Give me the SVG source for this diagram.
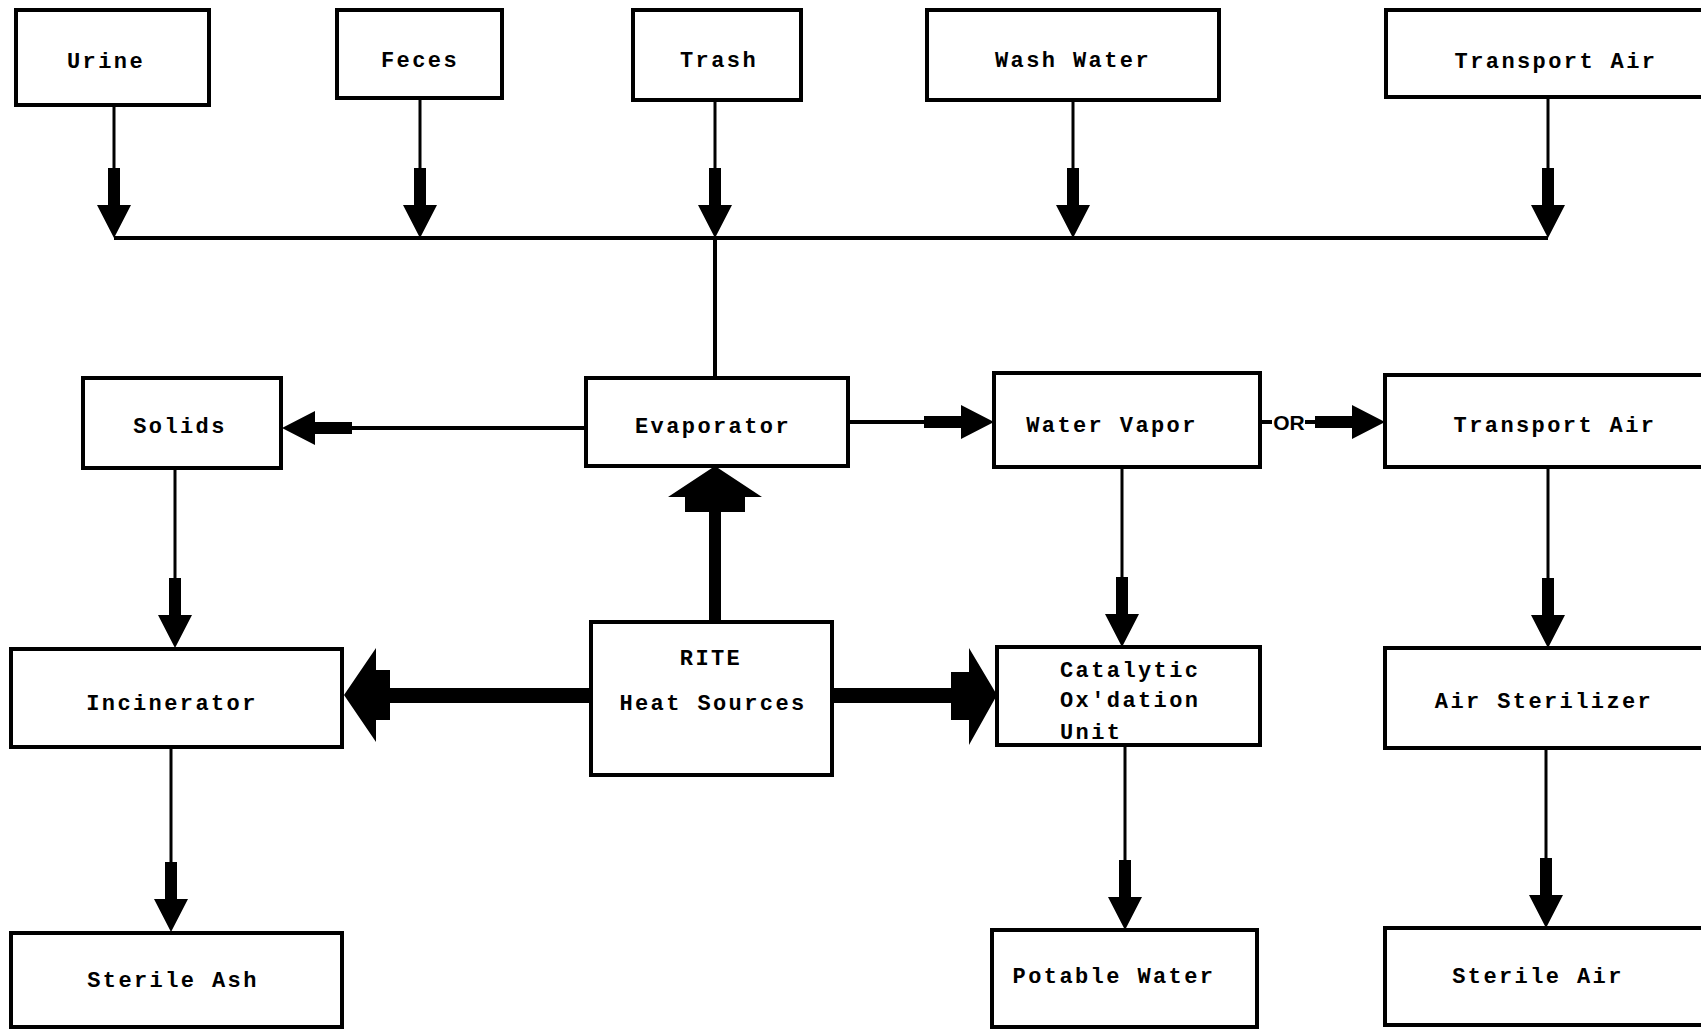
<svg xmlns="http://www.w3.org/2000/svg" width="1701" height="1029" viewBox="0 0 1701 1029">
<style>
.box{fill:#fff;stroke:#000;stroke-width:4}
.t{font-family:"Liberation Mono","DejaVu Sans Mono",monospace;font-weight:bold;font-size:22px;letter-spacing:2.4px;text-anchor:middle;fill:#000}
.tl{text-anchor:start}
.or{font-family:"Liberation Sans","DejaVu Sans",sans-serif;font-weight:bold;font-size:21px;text-anchor:middle;fill:#000}
.ln{stroke:#000;stroke-width:3;fill:none}
.bl{stroke:#000;stroke-width:4;fill:none}
.hd{fill:#000}
</style>
<defs>
<path id="dh" d="M-6,-70 H6 V-33 H17 L0,0 L-17,-33 H-6 Z"/>
</defs>
<rect width="1701" height="1029" fill="#fff"/>
<g id="n-urine"><rect class="box" x="16" y="10" width="193" height="95"/><text class="t" x="106" y="68">Urine</text></g>
<g id="n-feces"><rect class="box" x="337" y="10" width="165" height="88"/><text class="t" x="420" y="67">Feces</text></g>
<g id="n-trash"><rect class="box" x="633" y="10" width="168" height="90"/><text class="t" x="719" y="67">Trash</text></g>
<g id="n-wash"><rect class="box" x="927" y="10" width="292" height="90"/><text class="t" x="1073" y="67">Wash Water</text></g>
<g id="n-transport-top"><rect class="box" x="1386" y="10" width="340" height="87"/><text class="t" x="1556" y="68">Transport Air</text></g>
<g id="n-solids"><rect class="box" x="83" y="378" width="198" height="90"/><text class="t" x="180" y="433">Solids</text></g>
<g id="n-evap"><rect class="box" x="586" y="378" width="262" height="88"/><text class="t" x="713" y="433">Evaporator</text></g>
<g id="n-vapor"><rect class="box" x="994" y="373" width="266" height="94"/><text class="t" x="1112" y="432">Water Vapor</text></g>
<g id="n-transport-mid"><rect class="box" x="1385" y="375" width="340" height="92"/><text class="t" x="1555" y="432">Transport Air</text></g>
<g id="n-incin"><rect class="box" x="11" y="649" width="331" height="98"/><text class="t" x="172" y="710">Incinerator</text></g>
<g id="n-rite"><rect class="box" x="591" y="622" width="241" height="153"/><text class="t" x="711" y="665">RITE</text><text class="t" x="713" y="710">Heat Sources</text></g>
<g id="n-cat"><rect class="box" x="997" y="647" width="263" height="98"/><text class="t tl" x="1060" y="677">Catalytic</text><text class="t tl" x="1060" y="707">Ox'dation</text><text class="t tl" x="1060" y="739">Unit</text></g>
<g id="n-airster"><rect class="box" x="1385" y="648" width="340" height="100"/><text class="t" x="1544" y="708">Air Sterilizer</text></g>
<g id="n-ash"><rect class="box" x="11" y="933" width="331" height="94"/><text class="t" x="173" y="987">Sterile Ash</text></g>
<g id="n-potable"><rect class="box" x="992" y="930" width="265" height="97"/><text class="t" x="1114" y="983">Potable Water</text></g>
<g id="n-sterair"><rect class="box" x="1385" y="928" width="340" height="97"/><text class="t" x="1538" y="983">Sterile Air</text></g>
<g id="connectors">
<path class="bl" d="M114,238 H1548 M715,238 V378"/>
<path class="ln" d="M114,105 V200 M420,98 V200 M715,100 V200 M1073,100 V200 M1548,97 V200"/>
<use href="#dh" class="hd" transform="translate(114,238)"/>
<use href="#dh" class="hd" transform="translate(420,238)"/>
<use href="#dh" class="hd" transform="translate(715,238)"/>
<use href="#dh" class="hd" transform="translate(1073,238)"/>
<use href="#dh" class="hd" transform="translate(1548,238)"/>
<path class="ln" d="M175,468 V600 M1122,467 V600 M1548,467 V600"/>
<use href="#dh" class="hd" transform="translate(175,648)"/>
<use href="#dh" class="hd" transform="translate(1122,647)"/>
<use href="#dh" class="hd" transform="translate(1548,648)"/>
<path class="ln" d="M171,747 V880 M1125,745 V880 M1546,748 V880"/>
<use href="#dh" class="hd" transform="translate(171,932)"/>
<use href="#dh" class="hd" transform="translate(1125,930)"/>
<use href="#dh" class="hd" transform="translate(1546,928)"/>
<path class="bl" d="M586,428 H320"/>
<use href="#dh" class="hd" transform="translate(282,428) rotate(90)"/>
<path class="bl" d="M848,422 H960"/>
<use href="#dh" class="hd" transform="translate(994,422) rotate(-90)"/>
<path class="bl" d="M1260,422 H1272"/>
<text class="or" x="1289" y="430">OR</text>
<path class="bl" d="M1305,422 H1340"/>
<use href="#dh" class="hd" transform="translate(1385,422) rotate(-90)"/>
<path class="hd" d="M715,466 L762,497 H745 V512 H721 V622 H709 V512 H685 V497 H668 Z"/>
<path class="hd" d="M344,695 L376,648 V670 H390 V688 H591 V703 H390 V720 H376 V742 Z"/>
<path class="hd" d="M997,695 L969,648 V672 H951 V688 H832 V703 H951 V720 H969 V745 Z"/>
</g>
</svg>
